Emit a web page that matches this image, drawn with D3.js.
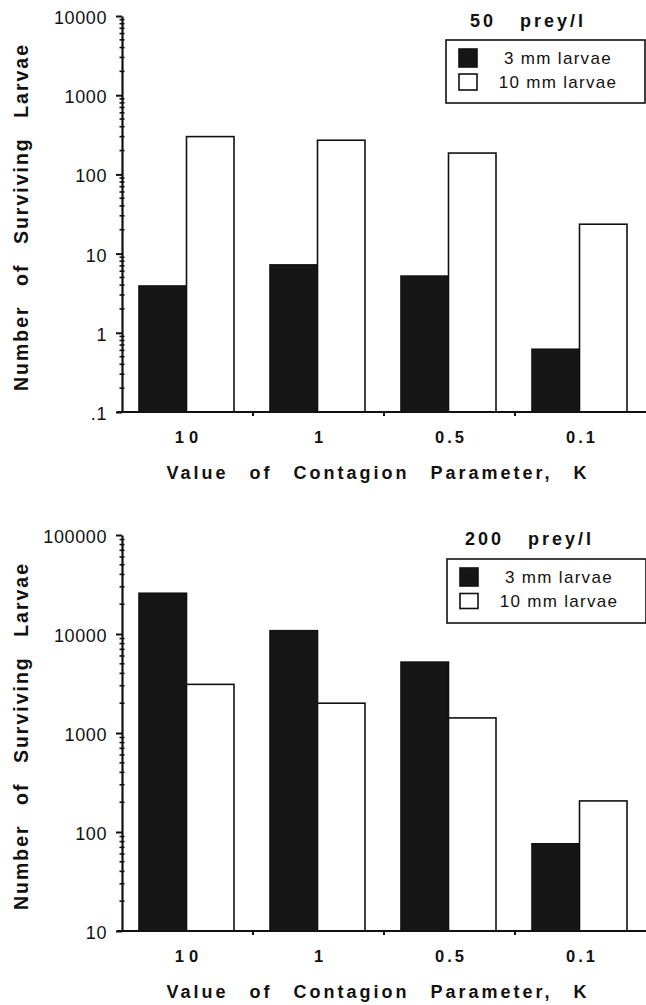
<!DOCTYPE html>
<html>
<head>
<meta charset="utf-8">
<script src="https://cdn.jsdelivr.net/npm/d3@7/dist/d3.min.js"></script>
<style>
  html, body { margin: 0; padding: 0; background: #fff; }
  svg { display: block; font-family: "Liberation Sans", Arial, Helvetica, sans-serif; }
</style>
</head>
<body>
<svg id="chart" width="646" height="1005"></svg>
<script>
// ---- data ----
const categories = ["10", "1", "0.5", "0.1"];
const seriesNames = ["3 mm larvae", "10 mm larvae"];

const top3mm  = [3.9, 7.2, 5.2, 0.62];
const top10mm = [300, 270, 186, 23.5];
const bot3mm  = [25800, 10800, 5200, 76];
const bot10mm = [3100, 2000, 1420, 206];

const topYTicks = [0.1, 1, 10, 100, 1000, 10000];
const topYTickLabels = [".1", "1", "10", "100", "1000", "10000"];
const botYTicks = [10, 100, 1000, 10000, 100000];
const botYTickLabels = ["10", "100", "1000", "10000", "100000"];

const topTitle = ["50", "prey/l"];
const botTitle = ["200", "prey/l"];
const yTitle = "Number of Surviving Larvae";
const xTitle = "Value of Contagion Parameter, K";

// ---- drawing ----
const svg = d3.select("#chart");
const INK = "#111";
const seriesFill = d3.scaleOrdinal().domain(seriesNames).range(["#161616", "#ffffff"]);

const x0 = d3.scaleBand().domain(categories).range([122, 646]).padding(0);
const x1 = d3.scaleBand().domain(seriesNames).range([17, 112]).padding(0);

function panel(cfg) {
  const g = svg.append("g");
  const y = d3.scaleLog().domain(cfg.yDomain).range([cfg.yBottom, cfg.yTop]);

  // bars
  const rows = categories.map((c, i) => ({ c, vals: seriesNames.map((s, j) => ({ s, v: cfg.values[j][i] })) }));
  const grp = g.selectAll("g.grp").data(rows).join("g")
    .attr("transform", d => `translate(${x0(d.c)},0)`);
  grp.selectAll("rect").data(d => d.vals).join("rect")
    .attr("x", d => x1(d.s))
    .attr("width", x1.bandwidth())
    .attr("y", d => y(d.v))
    .attr("height", d => cfg.yBottom - y(d.v))
    .attr("fill", d => seriesFill(d.s))
    .attr("stroke", INK)
    .attr("stroke-width", 1.6);

  // y axis
  const yAxis = d3.axisLeft(y)
    .tickValues(cfg.yTicks)
    .tickFormat((d, i) => cfg.yTickLabels[i])
    .tickSize(6).tickSizeOuter(0).tickPadding(9);
  const ya = g.append("g").attr("transform", "translate(122,0)").call(yAxis);
  ya.select(".domain").attr("stroke", INK).attr("stroke-width", 2.2);
  ya.selectAll(".tick line").attr("stroke", INK).attr("stroke-width", 2);
  ya.selectAll(".tick text")
    .attr("font-size", 18).attr("fill", INK).attr("dy", "0.42em")
    .attr("letter-spacing", 0.6)
    .attr("font-family", '"Liberation Sans", Arial, sans-serif');
  // minor ticks
  const minors = y.ticks().filter(t => Math.abs(Math.log10(t) - Math.round(Math.log10(t))) > 1e-6);
  ya.selectAll("line.minor").data(minors).join("line")
    .attr("class", "minor")
    .attr("x1", -2.5).attr("x2", 2.5)
    .attr("y1", d => y(d)).attr("y2", d => y(d))
    .attr("stroke", INK).attr("stroke-width", 1.6);

  // x axis line
  g.append("line")
    .attr("x1", 117).attr("x2", 646)
    .attr("y1", cfg.yBottom).attr("y2", cfg.yBottom)
    .attr("stroke", INK).attr("stroke-width", 2.2);
  // boundary ticks
  g.selectAll("line.xt").data(categories.slice(1)).join("line")
    .attr("class", "xt")
    .attr("x1", d => x0(d)).attr("x2", d => x0(d))
    .attr("y1", cfg.yBottom).attr("y2", cfg.yBottom + 4)
    .attr("stroke", INK).attr("stroke-width", 2);
  // x tick labels via axis
  const xAxis = d3.axisBottom(x0).tickSize(0).tickPadding(19);
  const xa = g.append("g").attr("transform", `translate(1.5,${cfg.yBottom})`).call(xAxis);
  xa.select(".domain").remove();
  xa.selectAll(".tick text")
    .attr("font-size", 16.5).attr("font-weight", "bold").attr("fill", INK)
    .attr("letter-spacing", d => d === "10" ? 5 : 3)
    .attr("font-family", '"Liberation Sans", Arial, sans-serif');

  // x title
  g.append("text")
    .attr("x", 378).attr("y", cfg.yBottom + 67)
    .attr("text-anchor", "middle")
    .attr("font-size", 18).attr("font-weight", "bold").attr("fill", INK)
    .attr("letter-spacing", 3).attr("word-spacing", 13)
    .text(xTitle);

  // y title
  g.append("text")
    .attr("transform", `translate(28,${cfg.yTitleCenter}) rotate(-90)`)
    .attr("text-anchor", "middle")
    .attr("font-size", 19.5).attr("font-weight", "bold").attr("fill", INK)
    .attr("letter-spacing", 2).attr("word-spacing", 12)
    .text(yTitle);

  // panel title
  const t = g.append("text")
    .attr("x", cfg.titleX).attr("y", cfg.titleY)
    .attr("text-anchor", "start")
    .attr("font-size", 18).attr("font-weight", "bold").attr("fill", INK)
    .attr("letter-spacing", 3);
  t.append("tspan").text(cfg.title[0]);
  t.append("tspan").attr("dx", 16).text(" " + cfg.title[1]);

  // legend
  const L = cfg.legend;
  g.append("rect")
    .attr("x", L.x).attr("y", L.y).attr("width", L.w).attr("height", L.h)
    .attr("fill", "#fff").attr("stroke", INK).attr("stroke-width", 1.6);
  const li = g.selectAll("g.li").data(seriesNames).join("g")
    .attr("transform", (d, i) => `translate(0,${L.rowY[i]})`);
  li.append("rect")
    .attr("x", L.x + 13).attr("y", (d, i) => -L.sw[i] / 2)
    .attr("width", 18).attr("height", (d, i) => L.sw[i])
    .attr("fill", d => seriesFill(d)).attr("stroke", INK).attr("stroke-width", 1.6);
  li.append("text")
    .attr("x", L.x + 112).attr("y", 6)
    .attr("text-anchor", "middle")
    .attr("font-size", 17).attr("fill", INK).attr("letter-spacing", 1.3)
    .text(d => d);
}

panel({
  yDomain: [0.1, 10000], yBottom: 412, yTop: 16,
  yTicks: topYTicks, yTickLabels: topYTickLabels,
  values: [top3mm, top10mm],
  yTitleCenter: 217,
  title: topTitle, titleX: 470, titleY: 27,
  legend: { x: 446, y: 40, w: 199, h: 63, rowY: [58, 82], sw: [18, 16] }
});

panel({
  yDomain: [10, 100000], yBottom: 931, yTop: 535,
  yTicks: botYTicks, yTickLabels: botYTickLabels,
  values: [bot3mm, bot10mm],
  yTitleCenter: 736,
  title: botTitle, titleX: 465, titleY: 545,
  legend: { x: 447, y: 559, w: 199, h: 64, rowY: [577, 601], sw: [18, 15] }
});
</script>
</body>
</html>
